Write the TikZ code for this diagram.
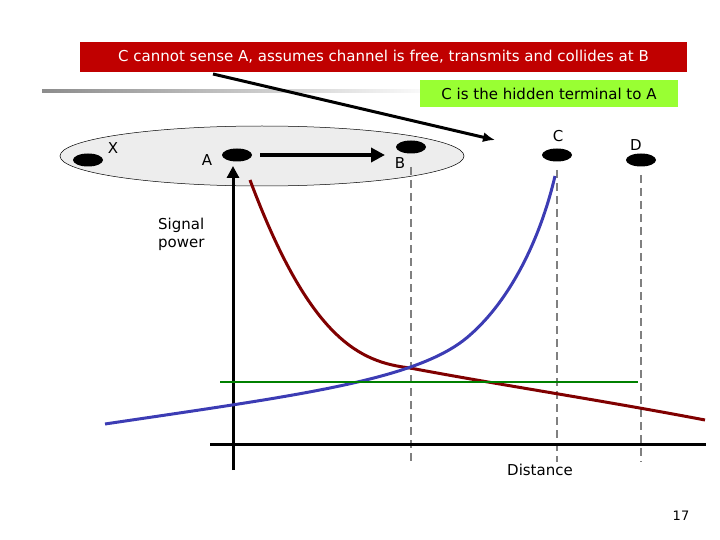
\documentclass[tikz,border=0pt]{standalone}
\usepackage{fontspec}
\setmainfont{DejaVu Sans}
\usetikzlibrary{arrows.meta,shapes.geometric}
\definecolor{boxred}{RGB}{192,0,0}
\definecolor{boxgreen}{RGB}{153,255,51}
\definecolor{curvered}{RGB}{128,0,0}
\definecolor{curveblue}{RGB}{60,60,180}
\definecolor{linegreen}{RGB}{0,128,0}
\begin{document}
\begin{tikzpicture}[x=1pt,y=-1pt,
  dot/.style={ellipse,fill=black,minimum width=30pt,minimum height=13pt,inner sep=0pt},
  lbl/.style={font=\fontsize{15}{18}\selectfont},
  gdash/.style={gray,line width=2.5pt,dash pattern=on 8pt off 5pt}]
\useasboundingbox (0,0) rectangle (720,540);
\node[fill=boxred,text=white,minimum width=607pt,minimum height=30pt,inner sep=0pt,lbl] (red) at (383.5,57) {C cannot sense A, assumes channel is free, transmits and collides at B};
\shade[left color=gray!90,right color=white] (42,89.5) rectangle (440,92.5);
\node[fill=boxgreen,minimum width=258pt,minimum height=27pt,inner sep=0pt,lbl] (green) at (549,93.5) {C is the hidden terminal to A};
\draw[fill=black!7,draw=black,line width=0.5pt] (262,156) ellipse [x radius=202, y radius=30];
\coordinate (s) at (213,74); \coordinate (e) at (495,140);
\draw[-{Latex[length=12pt,width=10pt]},line width=3pt] (s) -- (e);
\node[dot] (X) at (88,160) {};
\node[dot] (A) at (237,155) {};
\node[dot] (B) at (411,147) {};
\node[dot] (C) at (557,155) {};
\node[dot] (D) at (641,160) {};
\node[lbl] at (113,148) {X};
\node[lbl] at (207,160) {A};
\node[lbl] at (400,163) {B};
\node[lbl] at (558,136) {C};
\node[lbl] at (636,145) {D};
\coordinate (a1) at (260,155); \coordinate (b1) at (385,155);
\draw[-{Triangle[length=14pt,width=14pt]},line width=4pt] (a1) -- (b1);
\draw[gdash] (411,167) -- (411,462);
\draw[gdash] (557,170) -- (557,462);
\draw[gdash] (641,175) -- (641,462);
\draw[line width=3pt] (210,444) -- (706,444);
\draw[line width=3pt,-{Triangle[length=12pt,width=12pt]}] (233,470) -- (233,166);
\draw[line width=3pt,curvered] (250,180) .. controls (310,340) and (360,362) .. (410,368) .. controls (500,385) and (600,400) .. (705,420);
\draw[line width=3pt,curveblue] (105,424) .. controls (300,395) and (420,380) .. (470,335) .. controls (510,300) and (540,240) .. (555,176);
\draw[line width=2.5pt,linegreen] (220,382) -- (638,382);
\node[lbl,align=left,anchor=north west,inner sep=0pt] at (158,218) {Signal\\power};
\node[lbl] at (540,470) {Distance};
\node[font=\fontsize{13}{15}\selectfont] at (681,516) {17};
\end{tikzpicture}
\end{document}
